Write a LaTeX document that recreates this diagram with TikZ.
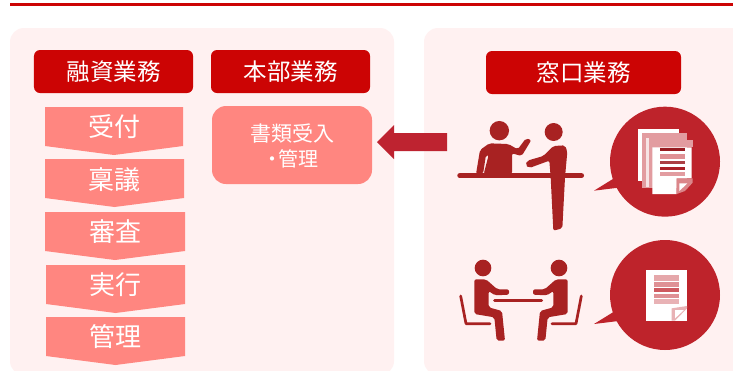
\documentclass[tikz,border=0pt]{standalone}
\usepackage{fontspec}
\setmainfont{Noto Sans CJK JP}
\usetikzlibrary{calc}
\definecolor{panel}{HTML}{FFF1F1}
\definecolor{hdr}{HTML}{CC0404}
\definecolor{salmon}{HTML}{FF8680}
\definecolor{icon}{HTML}{A82222}
\definecolor{bub}{HTML}{BE232B}
\definecolor{arrowc}{HTML}{BE2330}
\tikzset{
 hdrbox/.style={fill=hdr,draw=none,rounded corners=6bp,text=white,font=\fontsize{23.5bp}{25bp}\selectfont,minimum height=43bp,inner sep=0pt},
 chev/.style={fill=salmon,draw=none},
 chevtext/.style={text=white,font=\fontsize{26bp}{28bp}\selectfont,inner sep=0pt},
 iconfill/.style={fill=icon,draw=none},
}
\newcommand{\chevron}[5]{% left,right,top,shoulder,tip
 \fill[chev] (#1,#3)--(#2,#3)--(#2,#4)--({(#1+#2)/2},#5)--(#1,#4)--cycle;
}
\newcommand{\seated}{%
 \fill[iconfill] (129,114) circle (25*1bp/3);
 \fill[iconfill,rounded corners=2bp] (103,148)--(138,148)--(172,178)--(207,178)--(207,194)--(165,196)--(146,183)--(146,232)--(186,243)--(195,332)--(170,332)--(163,262)--(103,252)--cycle;
 \draw[icon,line width=2.7bp,line cap=round,line join=round] (62,198)--(78,281)--(150,281);
}
\begin{document}
\begin{tikzpicture}[x=1bp,y=-1bp]
\useasboundingbox (0,0) rectangle (733,370);
\fill[white] (0,0) rectangle (733,370);
\fill[hdr] (10,3) rectangle (733,6);
\fill[panel,rounded corners=14bp] (10,28) rectangle (394,375);
\fill[panel,rounded corners=14bp] (424,28) rectangle (750,375);
\node[hdrbox,minimum width=159bp] (yushi) at (113.5,71.5) {融資業務};
\node[hdrbox,minimum width=159bp] (honbu) at (290.5,71.5) {本部業務};
\node[hdrbox,minimum width=195bp] (madoguchi) at (583.5,72.5) {窓口業務};
\chevron{45}{183}{107}{146}{155}
\chevron{45}{184}{159}{198}{207}
\chevron{45}{185}{212}{251}{260}
\chevron{46}{185}{265}{304}{313}
\chevron{46}{185}{317}{356}{365}
\node[chevtext] (s1) at (114,127) {受付};
\node[chevtext] (s2) at (114.5,180) {稟議};
\node[chevtext] (s3) at (115,232) {審査};
\node[chevtext] (s4) at (115.5,285) {実行};
\node[chevtext] (s5) at (115.5,337) {管理};
\node[fill=salmon,rounded corners=14bp,minimum width=160bp,minimum height=78bp,inner sep=0pt] (doc) at (292,145) {};
\node[text=white,inner sep=0pt,font=\fontsize{21bp}{22bp}\selectfont] (t1) at (292,134) {書類受入};
\node[text=white,inner sep=0pt,font=\fontsize{20bp}{22bp}\selectfont] (t2) at (292,159) {\makebox[13bp][c]{・}管理};
\fill[arrowc] (447,133)--(394,133)--(394,125)--(377,142)--(394,159)--(394,151)--(447,151)--cycle;
% reception icon
\begin{scope}[shift={(440,90)},x=1bp/3,y=-1bp/3]
 \fill[bub] (675,215) circle (55bp);
 \fill[bub] (462,302)--(530,260)--(560,290)--cycle;
 \fill[iconfill] (178,122) circle (9.7bp);
 \fill[iconfill,rounded corners=2bp] (108,252)--(120,180)--(148,160)--(205,162)--(233,178)--(258,145)--(274,150)--(245,198)--(216,190)--(216,252)--(131,252)--(146,195)--(138,195)--(129,252)--cycle;
 \fill[iconfill] (341,126) circle (9bp);
 \fill[iconfill,rounded corners=2bp] (256,225)--(262,212)--(310,198)--(340,168)--(375,166)--(382,185)--(375,262)--(367,415)--(340,422)--(332,262)--(328,212)--(268,234)--cycle;
 \draw[icon,line width=5.5bp,line cap=round] (60,257)--(424,257);
 % documents
 \fill[white] (594,117) rectangle (718,272);
 \fill[bub!45!white] (605,130) rectangle (740,295);
 \fill[white!88!bub] (617,145) rectangle (628,290);
 \fill[bub!45!white] (628,150) rectangle (760,172);
 \fill[white] (637,172) -- (637,312) -- (710,312) -- (710,265) -- (755,265) -- (755,172) -- cycle;
 \fill[bub!55!white] (710,265) -- (758,265) -- (758,278) -- (735,303) -- (710,312) -- cycle;
 \fill[white] (718,280) -- (742,280) -- (718,303) -- cycle;
 \fill[bub!80!black] (660,173) rectangle (735,184);
 \fill[bub!50!white] (660,191) rectangle (735,206);
 \fill[bub!70!gray] (660,213) rectangle (735,222);
 \fill[bub!90!black] (660,231) rectangle (735,241);
 \fill[bub!45!white] (660,247) rectangle (735,257);
\end{scope}
% meeting icon
\begin{scope}[shift={(440,230)},x=1bp/3,y=-1bp/3]
 \fill[bub] (675,195) circle (55bp);
 \fill[bub] (462,282)--(530,240)--(560,270)--cycle;
 \seated
 \draw[icon,line width=3bp,line cap=round] (164,212)--(305,212);
 \begin{scope}[shift={(486,0)},x=-1bp/3,y=-1bp/3]
  \seated
 \end{scope}
 \fill[white] (618,120) rectangle (741,272);
 \fill[bub!40!white] (642,136) rectangle (718,152);
 \fill[bub!50!white] (642,156) rectangle (718,170);
 \fill[bub!75!white] (642,175) rectangle (718,185);
 \fill[bub!50!white] (642,192) rectangle (718,204);
 \fill[bub!35!white] (642,208) rectangle (718,222);
 \fill[bub!35!white] (695,272) -- (695,235) -- (741,228) -- (741,235) -- (705,272) -- cycle;
 \fill[white] (705,240) -- (732,240) -- (705,265) -- cycle;
\end{scope}
\end{tikzpicture}
\end{document}
